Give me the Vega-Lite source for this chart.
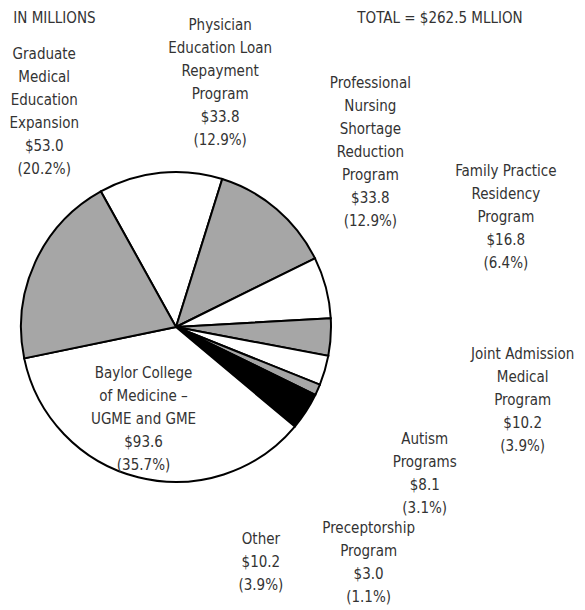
{
  "$schema": "https://vega.github.io/schema/vega-lite/v6.json",
  "width": 352,
  "height": 566,
  "autosize": {"type": "none"},
  "padding": {"left": 0, "top": 44, "right": 233, "bottom": 0},
  "background": "white",
  "layer": [
    {
      "data": {
        "values": [
          {"name": "Physician Education Loan Repayment Program", "amount": 33.8, "label": "Physician\nEducation Loan\nRepayment\nProgram\n$33.8\n(12.9%)"},
          {"name": "Professional Nursing Shortage Reduction Program", "amount": 33.8, "label": "Professional\nNursing\nShortage\nReduction\nProgram\n$33.8\n(12.9%)"},
          {"name": "Family Practice Residency Program", "amount": 16.8, "label": "Family Practice\nResidency\nProgram\n$16.8\n(6.4%)"},
          {"name": "Joint Admission Medical Program", "amount": 10.2, "label": "Joint Admission\nMedical\nProgram\n$10.2\n(3.9%)"},
          {"name": "Autism Programs", "amount": 8.1, "label": "Autism\nPrograms\n$8.1\n(3.1%)"},
          {"name": "Preceptorship Program", "amount": 3.0, "label": "Preceptorship\nProgram\n$3.0\n(1.1%)"},
          {"name": "Other", "amount": 10.2, "label": "Other\n$10.2\n(3.9%)"},
          {"name": "Baylor College of Medicine – UGME and GME", "amount": 93.6, "label": "Baylor College\nof Medicine –\nUGME and GME\n$93.6\n(35.7%)"},
          {"name": "Graduate Medical Education Expansion", "amount": 53.0, "label": "Graduate\nMedical\nEducation\nExpansion\n$53.0\n(20.2%)"}
        ]
      },
      "transform": [{"window": [{"op": "row_number", "as": "idx"}]}],
      "encoding": {
        "theta": {"field": "amount", "type": "quantitative", "stack": true, "scale": {"range": [-0.5061, 5.7771]}},
        "order": {"field": "idx", "type": "quantitative"}
      },
      "layer": [
        {
          "mark": {"type": "arc", "radius": 155, "stroke": "#000000", "strokeWidth": 2, "strokeJoin": "miter"},
          "encoding": {
            "color": {
              "field": "name", "type": "nominal", "legend": null,
              "scale": {
                "domain": ["Physician Education Loan Repayment Program", "Professional Nursing Shortage Reduction Program", "Family Practice Residency Program", "Joint Admission Medical Program", "Autism Programs", "Preceptorship Program", "Other", "Baylor College of Medicine – UGME and GME", "Graduate Medical Education Expansion"],
                "range": ["#ffffff", "#a6a6a6", "#ffffff", "#a6a6a6", "#ffffff", "#a6a6a6", "#000000", "#ffffff", "#a6a6a6"]
              }
            }
          }
        },
        {
          "mark": {"type": "text", "radius": 156, "dx": 60, "dy": -147.3},
          "encoding": {"text": {"condition": {"test": "datum.name === 'Physician Education Loan Repayment Program'", "field": "label"}, "value": ""}}
        },
        {
          "mark": {"type": "text", "radius": 156, "dx": 93, "dy": -125.4},
          "encoding": {"text": {"condition": {"test": "datum.name === 'Professional Nursing Shortage Reduction Program'", "field": "label"}, "value": ""}}
        },
        {
          "mark": {"type": "text", "radius": 156, "dx": 179, "dy": -116.7},
          "encoding": {"text": {"condition": {"test": "datum.name === 'Family Practice Residency Program'", "field": "label"}, "value": ""}}
        },
        {
          "mark": {"type": "text", "radius": 156, "dx": 191, "dy": 16.4},
          "encoding": {"text": {"condition": {"test": "datum.name === 'Joint Admission Medical Program'", "field": "label"}, "value": ""}}
        },
        {
          "mark": {"type": "text", "radius": 156, "dx": 99, "dy": 68.3},
          "encoding": {"text": {"condition": {"test": "datum.name === 'Autism Programs'", "field": "label"}, "value": ""}}
        },
        {
          "mark": {"type": "text", "radius": 156, "dx": 50, "dy": 137.8},
          "encoding": {"text": {"condition": {"test": "datum.name === 'Preceptorship Program'", "field": "label"}, "value": ""}}
        },
        {
          "mark": {"type": "text", "radius": 156, "dx": -46, "dy": 126.9},
          "encoding": {"text": {"condition": {"test": "datum.name === 'Other'", "field": "label"}, "value": ""}}
        },
        {
          "mark": {"type": "text", "radius": 96, "dx": -9, "dy": -47.1},
          "encoding": {"text": {"condition": {"test": "datum.name === 'Baylor College of Medicine – UGME and GME'", "field": "label"}, "value": ""}}
        },
        {
          "mark": {"type": "text", "radius": 156, "dx": 10, "dy": -208.1},
          "encoding": {"text": {"condition": {"test": "datum.name === 'Graduate Medical Education Expansion'", "field": "label"}, "value": ""}}
        }
      ]
    },
    {
      "data": {"values": [{"note": "IN MILLIONS"}]},
      "mark": {"type": "text", "align": "left", "dx": -162.7, "dy": -309.5},
      "encoding": {"text": {"field": "note"}}
    },
    {
      "data": {"values": [{"note": "TOTAL = $262.5 MLLION"}]},
      "mark": {"type": "text", "align": "center", "dx": 264, "dy": -309.5},
      "encoding": {"text": {"field": "note"}}
    }
  ],
  "config": {
    "view": {"stroke": null},
    "text": {"font": "DejaVu Sans Condensed, Liberation Sans", "fontSize": 15, "fill": "#333333", "lineHeight": 23, "lineBreak": "\n", "align": "center", "baseline": "middle"}
  }
}
